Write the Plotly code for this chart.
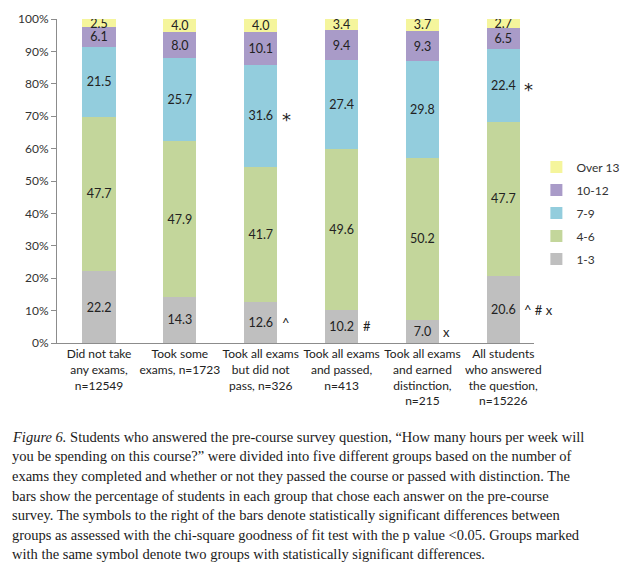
import plotly.graph_objects as go

categories = [
    "Did not take<br>any exams,<br>n=12549",
    "Took some<br>exams, n=1723",
    "Took all exams<br>but did not<br>pass, n=326",
    "Took all exams<br>and passed,<br>n=413",
    "Took all exams<br>and earned<br>distinction,<br>n=215",
    "All students<br>who answered<br>the question,<br>n=15226",
]
series_names = ["1-3", "4-6", "7-9", "10-12", "Over 13"]
v_1_3 = [22.2, 14.3, 12.6, 10.2, 7.0, 20.6]
v_4_6 = [47.7, 47.9, 41.7, 49.6, 50.2, 47.7]
v_7_9 = [21.5, 25.7, 31.6, 27.4, 29.8, 22.4]
v_10_12 = [6.1, 8.0, 10.1, 9.4, 9.3, 6.5]
v_over13 = [2.5, 4.0, 4.0, 3.4, 3.7, 2.7]
colors = ["#BFBFBF", "#C3D69B", "#93CDDD", "#A99BC8", "#F5F59C"]

# significance markers: (category index, series index, symbol)
sig_marks = [
    (2, 2, "*"),
    (5, 2, "*"),
    (2, 0, "^"),
    (3, 0, "#"),
    (4, 0, "x"),
    (5, 0, "^ # x"),
]

caption_lines = [
    "<i>Figure 6.</i> Students who answered the pre-course survey question, \u201cHow many hours per week will",
    "you be spending on this course?\u201d were divided into five different groups based on the number of",
    "exams they completed and whether or not they passed the course or passed with distinction. The",
    "bars show the percentage of students in each group that chose each answer on the pre-course",
    "survey. The symbols to the right of the bars denote statistically significant differences between",
    "groups as assessed with the chi-square goodness of fit test with the p value <0.05. Groups marked",
    "with the same symbol denote two groups with statistically significant differences.",
]

all_series = [v_1_3, v_4_6, v_7_9, v_10_12, v_over13]
xs = list(range(len(categories)))

fig = go.Figure()
for i, (name, vals, col) in enumerate(zip(series_names, all_series, colors)):
    fig.add_trace(go.Bar(
        x=xs, y=vals, name=name, marker=dict(color=col, line=dict(width=0)),
        width=0.41, text=[f"{v:.1f}" for v in vals], textposition="inside",
        insidetextanchor="middle", constraintext="none",
        textfont=dict(family="Lato, sans-serif", size=12.5, color="#222222"),
        legendgroup=name, legendrank=1000 - i, hoverinfo="skip",
    ))

W, H = 628, 565
L, R, T, B = 57, 94, 19, 222
pw, ph = W - L - R, H - T - B

annotations = []
for ci, si, sym in sig_marks:
    base = sum(all_series[k][ci] for k in range(si))
    mid = base + all_series[si][ci] / 2
    is_star = sym == "*"
    annotations.append(dict(
        x=ci, y=mid, xref="x", yref="y", text=sym, showarrow=False,
        xanchor="left", xshift=19, yshift=-4 if is_star else 0,
        font=dict(family="DejaVu Sans, sans-serif" if is_star else "Lato, sans-serif",
                  size=18 if is_star else 13, color="#222222"),
    ))

for i, line in enumerate(caption_lines):
    px_x, px_y = 10, 437 + i * 19.5
    annotations.append(dict(
        x=(px_x - L) / pw, y=(H - B - px_y) / ph, xref="paper", yref="paper",
        text=line, showarrow=False, xanchor="left", yanchor="middle",
        font=dict(family="Liberation Serif, serif", size=14.5, color="#1a1a1a"),
    ))

fig.update_layout(
    width=W, height=H, barmode="stack",
    margin=dict(l=L, r=R, t=T, b=B, autoexpand=False),
    paper_bgcolor="white", plot_bgcolor="white",
    font=dict(family="Lato, sans-serif", size=12, color="#333333"),
    xaxis=dict(
        tickmode="array", tickvals=xs, ticktext=categories, range=[-0.52, 5.38],
        showline=True, linecolor="#8c8c8c", linewidth=1, ticks="", showgrid=False,
        tickfont=dict(size=12, color="#222222"), zeroline=False,
    ),
    yaxis=dict(
        range=[0, 100], dtick=10, ticksuffix="%", showline=True, linecolor="#8c8c8c",
        ticks="outside", ticklen=5, tickcolor="#8c8c8c", showgrid=False, zeroline=False,
        tickfont=dict(size=12, color="#333333"),
    ),
    legend=dict(
        traceorder="grouped", x=1.005, y=0.588, xanchor="left", yanchor="top",
        font=dict(size=12, color="#333333"), tracegroupgap=4, itemwidth=30,
        bgcolor="rgba(0,0,0,0)",
    ),
    showlegend=True,
    annotations=annotations,
)

fig.write_html(
    "out.html",
    config={"displayModeBar": False},
    post_script="document.body.style.margin='0';document.body.style.padding='0';",
)
